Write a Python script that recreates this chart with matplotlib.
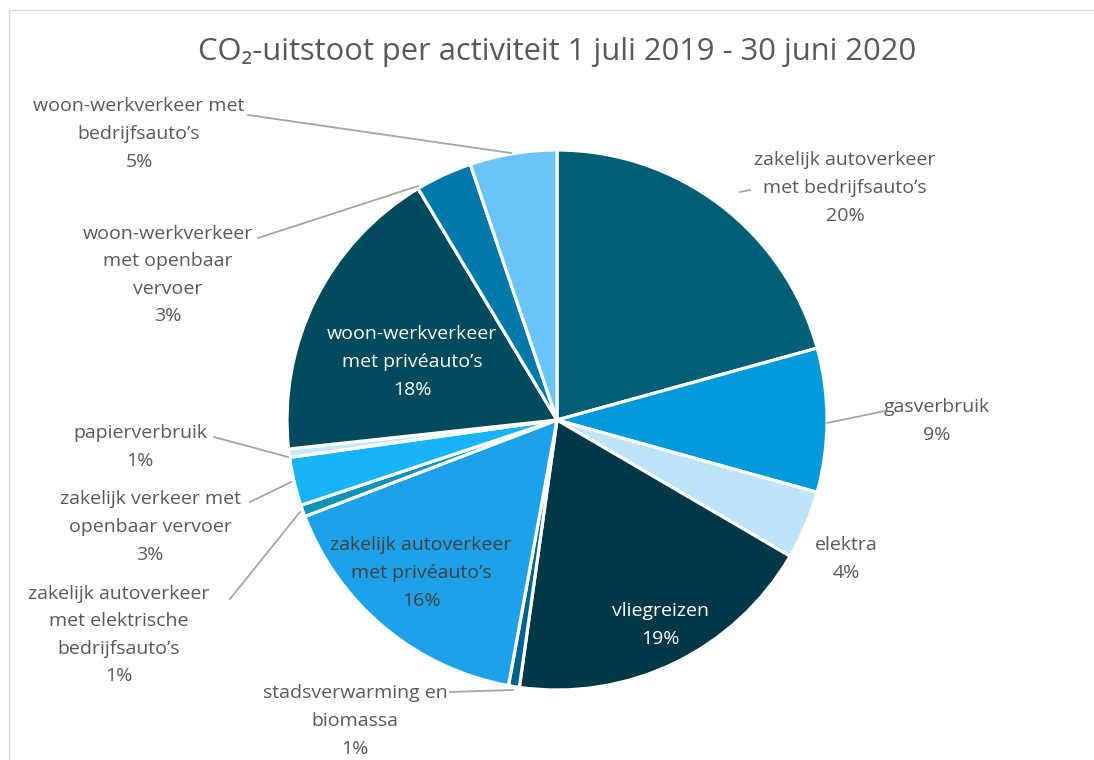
import matplotlib.pyplot as plt
from matplotlib.patches import Rectangle

plt.rcParams['font.family'] = ['Open Sans', 'DejaVu Sans']

# slice shares (%), clockwise from the top
categories = [
    "zakelijk autoverkeer\nmet bedrijfsauto’s",
    "gasverbruik",
    "elektra",
    "vliegreizen",
    "stadsverwarming en\nbiomassa",
    "zakelijk autoverkeer\nmet privéauto’s",
    "zakelijk autoverkeer\nmet elektrische\nbedrijfsauto’s",
    "zakelijk verkeer met\nopenbaar vervoer",
    "papierverbruik",
    "woon-werkverkeer\nmet privéauto’s",
    "woon-werkverkeer\nmet openbaar\nvervoer",
    "woon-werkverkeer met\nbedrijfsauto’s",
]
values = [20.7, 8.6, 4.1, 18.8, 0.65, 16.3, 0.7, 2.9, 0.5, 18.1, 3.4, 5.2]
pct_labels = ["20%", "9%", "4%", "19%", "1%", "16%", "1%", "3%", "1%", "18%", "3%", "5%"]
colors = ["#005F77", "#0099D9", "#BDE4F8", "#003847", "#00628F", "#1DA2EA",
          "#0F92BB", "#17B5F8", "#C9E7F9", "#004A5D", "#0078A9", "#6AC4F7"]

# label positions in pixels (x, y from top), text colour, leader line (from, to)
label_pos = [(845, 188), (937, 421), (846, 559), (660, 625), (355, 721), (421, 573),
             (119, 635), (150, 527), (140, 447), (412, 362), (168, 275), (139, 134)]
label_col = ["#595959", "#595959", "#595959", "white", "#595959", "#404040",
             "#595959", "#595959", "#595959", "white", "#595959", "#595959"]
leaders = [((740, 192), (750, 190)), ((827, 423), (885, 411)), None, None,
           ((513, 690), (450, 692)), None,
           ((300, 512), (230, 599)), ((291, 482), (250, 502)), ((288, 457), (214, 437)),
           None, ((418, 186), (258, 238)), ((511, 153), (248, 115))]

W, H = 1094, 760
fig = plt.figure(figsize=(W / 100, H / 100), dpi=100)
ax = fig.add_axes([0, 0, 1, 1])

cx, cy, r = 557, H - 420, 270
ax.pie(values, colors=colors, startangle=90, counterclock=False,
       center=(cx, cy), radius=r, frame=True,
       wedgeprops=dict(edgecolor='white', linewidth=2.3))

# chart border
ax.add_patch(Rectangle((9, -50), 1300, H - 10 + 50, fill=False,
                       edgecolor='#D9D9D9', linewidth=1))

for name, pct, (x, y), col, ld in zip(categories, pct_labels, label_pos, label_col, leaders):
    ax.text(x, H - y, name + "\n" + pct, ha='center', va='center', color=col,
            fontsize=14, linespacing=1.68)
    if ld is not None:
        (x0, y0), (x1, y1) = ld
        ax.plot([x0, x1], [H - y0, H - y1], color='#A6A6A6', linewidth=1.3)

ax.text(557, H - 52, "CO₂-uitstoot per activiteit 1 juli 2019 - 30 juni 2020",
        ha='center', va='center', fontsize=22.2, color='#595959')

ax.set_xlim(0, W)
ax.set_ylim(0, H)
ax.axis('off')
fig.savefig('out.png', dpi=100)
